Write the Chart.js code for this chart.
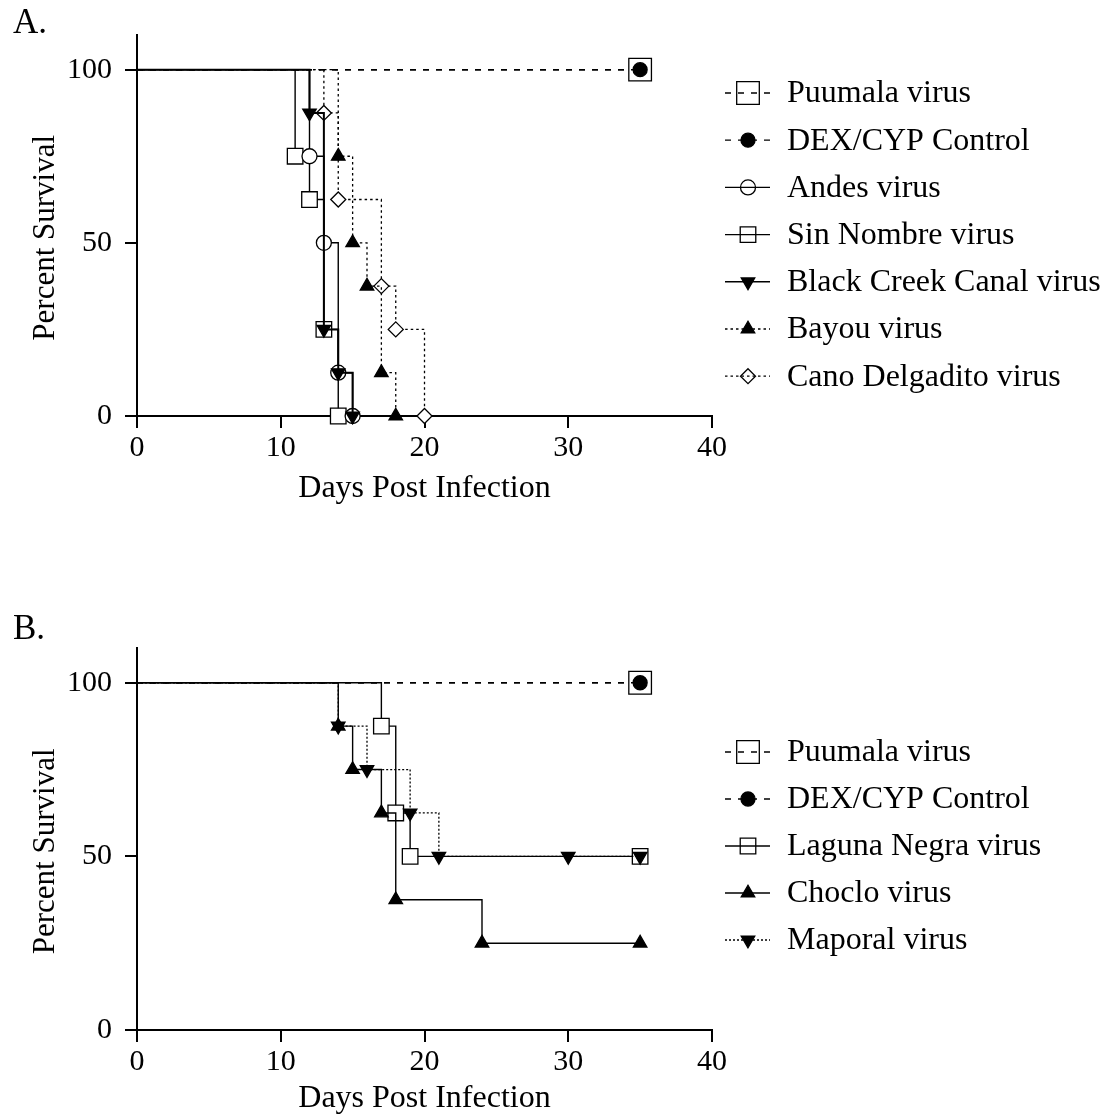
<!DOCTYPE html>
<html><head><meta charset="utf-8">
<script src="https://cdn.jsdelivr.net/npm/chart.js@4.4.1/dist/chart.umd.min.js"></script>
<style>
html,body{margin:0;padding:0;background:#fff;overflow:hidden;width:1117px;height:1118px}
canvas{position:absolute;left:0;display:block}
#ca{top:0}
#cb{top:560px}
</style></head><body>
<canvas id="ca" width="1117" height="560"></canvas>
<canvas id="cb" width="1117" height="558"></canvas>
<script>
// ---------- data ----------
const xTicks = [0, 10, 20, 30, 40];
const yTicks = [0, 50, 100];

// Panel A
const puumalaADays = [0, 35],               puumalaASurv = [100, 100];
const dexADays     = [0, 35],               dexASurv     = [100, 100];
const andesDays    = [0, 12, 13, 14, 15],   andesSurv    = [100, 75, 50, 12.5, 0];
const sinNombreDays= [0, 11, 12, 13, 14],   sinNombreSurv= [100, 75, 62.5, 25, 0];
const bccDays      = [0, 12, 13, 14, 15],   bccSurv      = [100, 87.5, 25, 12.5, 0];
const bayouDays    = [0, 14, 15, 16, 17, 18], bayouSurv  = [100, 75, 50, 37.5, 12.5, 0];
const canoDays     = [0, 13, 14, 17, 18, 20], canoSurv   = [100, 87.5, 62.5, 37.5, 25, 0];

// Panel B
const puumalaBDays = [0, 35],               puumalaBSurv = [100, 100];
const dexBDays     = [0, 35],               dexBSurv     = [100, 100];
const lagunaDays   = [0, 17, 18, 19, 35],   lagunaSurv   = [100, 87.5, 62.5, 50, 50];
const chocloDays   = [0, 14, 15, 17, 18, 24, 35], chocloSurv  = [100, 87.5, 75, 62.5, 37.5, 25, 25];
const maporalDays  = [0, 14, 16, 19, 21, 30, 35], maporalSurv = [100, 87.5, 75, 62.5, 50, 50, 50];

const labelsA = ['Puumala virus', 'DEX/CYP Control', 'Andes virus', 'Sin Nombre virus',
                 'Black Creek Canal virus', 'Bayou virus', 'Cano Delgadito virus'];
const labelsB = ['Puumala virus', 'DEX/CYP Control', 'Laguna Negra virus', 'Choclo virus', 'Maporal virus'];

// ---------- styles ----------
const FONT = "'Liberation Serif','Times New Roman',serif";
const DASH = [6, 7];
const DOT = [2.5, 3];
const FINEDOT = [2, 2];

const ST = {
  puumala: {shape: 'rect',     r: 16,  rot: 0,   filled: false, dash: DASH, lw: 1.5, order: 9},
  dex:     {shape: 'circle',   r: 7,   rot: 0,   filled: true,  dash: DASH, lw: 1.5, order: 0},
  andes:   {shape: 'circle',   r: 7.5, rot: 0,   filled: false, dash: [],   lw: 1.4, order: 5},
  sin:     {shape: 'rect',     r: 11,  rot: 0,   filled: false, dash: [],   lw: 1.4, order: 7},
  bcc:     {shape: 'triangle', r: 7.8, rot: 180, filled: true,  dash: [],   lw: 2,   order: 1},
  bayou:   {shape: 'triangle', r: 7.8, rot: 0,   filled: true,  dash: DOT,  lw: 1.3, order: 3},
  cano:    {shape: 'rectRot',  r: 7.5, rot: 0,   filled: false, dash: DOT,  lw: 1.3, order: 4},
  laguna:  {shape: 'rect',     r: 11,  rot: 0,   filled: false, dash: [],   lw: 1.4, order: 6},
  choclo:  {shape: 'triangle', r: 7.8, rot: 0,   filled: true,  dash: [],   lw: 1.4, order: 2},
  maporal: {shape: 'triangle', r: 7.8, rot: 180, filled: true,  dash: FINEDOT, lw: 1.3, order: 1}
};

function ds(label, days, surv, s) {
  return {
    label: label,
    data: days.map((d, i) => ({x: d, y: surv[i]})),
    stepped: 'before',
    borderColor: '#000',
    borderWidth: s.lw,
    borderDash: s.dash,
    fill: false,
    order: s.order,
    clip: false,
    pointStyle: s.shape,
    pointRotation: s.rot,
    pointRadius: c => c.dataIndex === 0 ? 0 : s.r,
    pointHoverRadius: c => c.dataIndex === 0 ? 0 : s.r,
    pointBackgroundColor: s.filled ? '#000' : '#fff',
    pointBorderColor: '#000',
    pointBorderWidth: 1.3
  };
}

// ---------- legend marker drawing ----------
function drawMarker(ctx, s, x, y) {
  const r = s.r;
  const rad = s.rot * Math.PI / 180;
  ctx.beginPath();
  if (s.shape === 'circle') {
    ctx.arc(x, y, r, 0, Math.PI * 2);
  } else if (s.shape === 'rect') {
    const h = r * Math.SQRT1_2;
    ctx.rect(x - h, y - h, 2 * h, 2 * h);
  } else if (s.shape === 'rectRot') {
    ctx.moveTo(x, y - r); ctx.lineTo(x + r, y); ctx.lineTo(x, y + r); ctx.lineTo(x - r, y);
  } else if (s.shape === 'triangle') {
    let a = rad;
    ctx.moveTo(x + Math.sin(a) * r, y - Math.cos(a) * r);
    a += 2 * Math.PI / 3;
    ctx.lineTo(x + Math.sin(a) * r, y - Math.cos(a) * r);
    a += 2 * Math.PI / 3;
    ctx.lineTo(x + Math.sin(a) * r, y - Math.cos(a) * r);
  }
  ctx.closePath();
  ctx.setLineDash([]);
  ctx.lineWidth = 1.3;
  ctx.strokeStyle = '#000';
  if (s.filled) { ctx.fillStyle = '#000'; ctx.fill(); }
  ctx.stroke();
}

const annotPlugin = {
  id: 'annot',
  afterDraw(chart, args, opts) {
    const ctx = chart.ctx;
    ctx.save();
    // panel letter
    ctx.fillStyle = '#000';
    ctx.font = '35px ' + FONT;
    ctx.textAlign = 'left';
    ctx.textBaseline = 'alphabetic';
    ctx.fillText(opts.letter, 13, opts.letterY);
    // y axis title
    const ys = chart.scales.y;
    const cy = (ys.getPixelForValue(0) + ys.getPixelForValue(100)) / 2 - 5;
    ctx.save();
    ctx.translate(46, cy);
    ctx.rotate(-Math.PI / 2);
    ctx.font = '31px ' + FONT;
    ctx.textAlign = 'center';
    ctx.textBaseline = 'middle';
    ctx.fillText('Percent Survival', 0, 0);
    ctx.restore();
    // legend
    const items = opts.items;
    for (let i = 0; i < items.length; i++) {
      const it = items[i];
      const y = opts.y0 + i * opts.dy;
      ctx.beginPath();
      ctx.setLineDash(it.s.dash);
      ctx.lineWidth = it.s.lw > 1.5 ? 1.6 : 1.3;
      ctx.strokeStyle = '#000';
      ctx.moveTo(725, y);
      ctx.lineTo(770, y);
      ctx.stroke();
      drawMarker(ctx, it.s, 748, y);
      ctx.fillStyle = '#000';
      ctx.font = '32px ' + FONT;
      ctx.textAlign = 'left';
      ctx.textBaseline = 'middle';
      ctx.fillText(it.label, 787, y + 1);
    }
    ctx.restore();
  }
};

function axisX(titlePadBottom, height) {
  return {
    type: 'linear', min: 0, max: 40,
    afterBuildTicks: s => { s.ticks = xTicks.map(v => ({value: v})); },
    afterFit: s => { s.height = height; },
    ticks: {color: '#000', font: {family: FONT, size: 30}, padding: 2, maxRotation: 0, autoSkip: false},
    grid: {drawOnChartArea: false, drawTicks: true, tickLength: 12, color: '#000', lineWidth: 2},
    border: {display: true, color: '#000', width: 2},
    title: {display: true, text: 'Days Post Infection', color: '#000',
            font: {family: FONT, size: 32}, padding: {top: 0, bottom: titlePadBottom}}
  };
}
function axisY() {
  return {
    type: 'linear', min: 0, max: 110,
    afterBuildTicks: s => { s.ticks = yTicks.map(v => ({value: v})); },
    afterFit: s => { s.width = 137; },
    ticks: {color: '#000', font: {family: FONT, size: 30}, padding: 13, autoSkip: false},
    grid: {drawOnChartArea: false, drawTicks: true, tickLength: 12, color: '#000', lineWidth: 2},
    border: {display: true, color: '#000', width: 2}
  };
}

const baseOpts = {
  responsive: false,
  animation: false,
  events: [],
  plugins: {legend: {display: false}, tooltip: {enabled: false}}
};

// ---------- Panel A ----------
new Chart(document.getElementById('ca'), {
  type: 'line',
  data: {datasets: [
    ds(labelsA[0], puumalaADays, puumalaASurv, ST.puumala),
    ds(labelsA[1], dexADays, dexASurv, ST.dex),
    ds(labelsA[2], andesDays, andesSurv, ST.andes),
    ds(labelsA[3], sinNombreDays, sinNombreSurv, ST.sin),
    ds(labelsA[4], bccDays, bccSurv, ST.bcc),
    ds(labelsA[5], bayouDays, bayouSurv, ST.bayou),
    ds(labelsA[6], canoDays, canoSurv, ST.cano)
  ]},
  options: Object.assign({}, baseOpts, {
    layout: {padding: {left: 0, right: 405, top: 35, bottom: 0}},
    scales: {x: axisX(52, 144), y: axisY()},
    plugins: Object.assign({}, baseOpts.plugins, {
      annot: {letter: 'A.', letterY: 33, y0: 93, dy: 47.2, items: [
        {label: labelsA[0], s: ST.puumala},
        {label: labelsA[1], s: ST.dex},
        {label: labelsA[2], s: ST.andes},
        {label: labelsA[3], s: ST.sin},
        {label: labelsA[4], s: ST.bcc},
        {label: labelsA[5], s: ST.bayou},
        {label: labelsA[6], s: ST.cano}
      ]}
    })
  }),
  plugins: [annotPlugin]
});

// ---------- Panel B ----------
new Chart(document.getElementById('cb'), {
  type: 'line',
  data: {datasets: [
    ds(labelsB[0], puumalaBDays, puumalaBSurv, ST.puumala),
    ds(labelsB[1], dexBDays, dexBSurv, ST.dex),
    ds(labelsB[2], lagunaDays, lagunaSurv, ST.laguna),
    ds(labelsB[3], chocloDays, chocloSurv, ST.choclo),
    ds(labelsB[4], maporalDays, maporalSurv, ST.maporal)
  ]},
  options: Object.assign({}, baseOpts, {
    layout: {padding: {left: 0, right: 405, top: 88, bottom: 0}},
    scales: {x: axisX(0, 88), y: axisY()},
    plugins: Object.assign({}, baseOpts.plugins, {
      annot: {letter: 'B.', letterY: 79, y0: 192, dy: 47, items: [
        {label: labelsB[0], s: ST.puumala},
        {label: labelsB[1], s: ST.dex},
        {label: labelsB[2], s: ST.laguna},
        {label: labelsB[3], s: ST.choclo},
        {label: labelsB[4], s: ST.maporal}
      ]}
    })
  }),
  plugins: [annotPlugin]
});
</script>
</body></html>
